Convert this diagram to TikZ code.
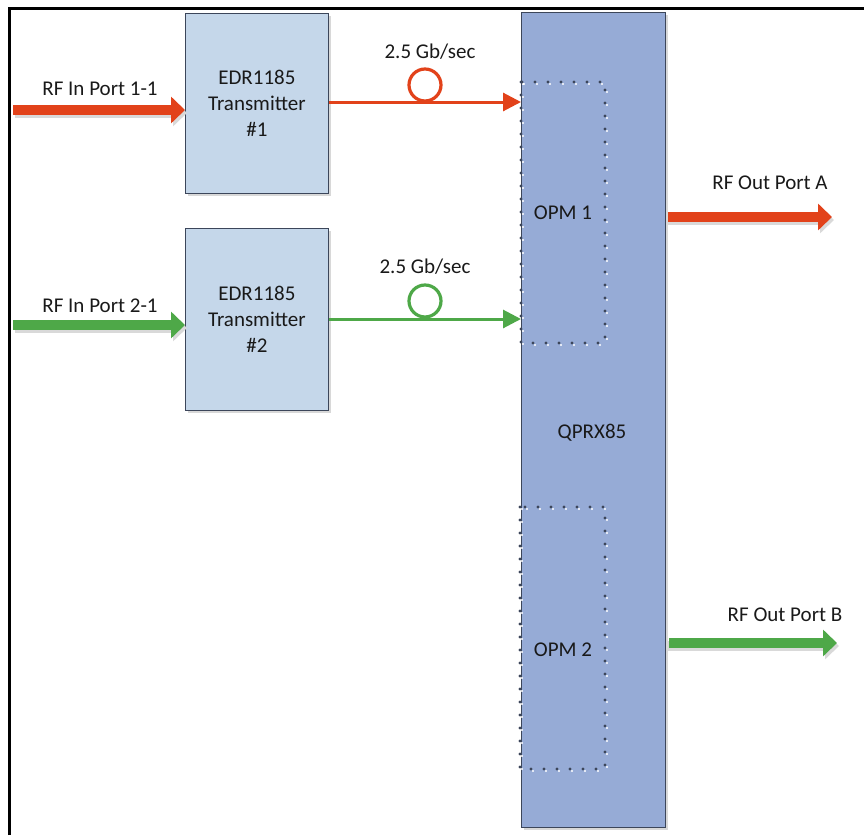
\documentclass[tikz,border=0pt]{standalone}
\usepackage{fontspec}
\setmainfont{Carlito}
\usetikzlibrary{arrows.meta,shadows}
\definecolor{rfred}{RGB}{226,66,26}
\definecolor{rfgreen}{RGB}{78,168,72}
\definecolor{txfill}{RGB}{197,215,234}
\definecolor{qfill}{RGB}{150,171,214}
\definecolor{edgecol}{RGB}{60,70,90}
\begin{document}
\begin{tikzpicture}[x=1pt,y=-1pt,
  font=\fontsize{21}{26}\selectfont,
  box/.style={draw=edgecol, line width=0.8pt, anchor=north west, inner sep=0pt,
    drop shadow={shadow xshift=2.5pt,shadow yshift=-2.5pt,fill=black!30,opacity=0.5}},
  fatarrow/.style={line width=9.5pt, -{Triangle[length=14pt,width=26pt]}},
  fatshadow/.style={line width=9.5pt, -{Triangle[length=14pt,width=26pt]}, black!15},
  thinarrow/.style={line width=3pt, -{Triangle[length=18pt,width=18pt]}},
  ring/.style={circle, draw, line width=3.2pt, fill=white, minimum size=32pt, inner sep=0pt},
  opmdots/.style={draw=edgecol, line width=3.3pt, line cap=round, dash pattern=on 0pt off 13pt},
  opmwhite/.style={draw=white, line width=2.2pt, line cap=round, dash pattern=on 0pt off 13pt},
  lbl/.style={inner sep=1pt, text=black!90}
]
\useasboundingbox (0,0) rectangle (864,835);
% frame (top and left edges)
\draw[line width=2.5pt] (9.5,835) -- (9.5,8.5) -- (864,8.5);

% blocks
\node[box, fill=txfill, minimum width=143pt, minimum height=180pt, align=center, text=black!90] (tx1) at (185,13)
  {EDR1185\\Transmitter\\\#1};
\node[box, fill=txfill, minimum width=143pt, minimum height=182pt, align=center, text=black!90] (tx2) at (185,228)
  {EDR1185\\Transmitter\\\#2};
\node[box, fill=qfill, minimum width=144pt, minimum height=815pt] (qprx) at (521,12) {};
\node[lbl] (qlbl) at (592,433) {QPRX85};

% OPM dotted regions
\draw[opmwhite] (523,84) rectangle (607,345);
\draw[opmdots] (521,82) rectangle (605,343);
\node[lbl] (opm1) at (563,213) {OPM 1};
\draw[opmwhite] (522,509) rectangle (607,771);
\draw[opmdots] (520,507) rectangle (605,769);
\node[lbl] (opm2) at (563,650) {OPM 2};

% inputs
\coordinate (in1) at (13,110);
\coordinate (in2) at (13,325);
\draw[fatshadow] ([shift={(2,3)}]in1) -- ([shift={(2,3)}]in1 -| tx1.west);
\draw[fatshadow] ([shift={(2,3)}]in2) -- ([shift={(2,3)}]in2 -| tx2.west);
\draw[fatarrow, rfred] (in1) -- (in1 -| tx1.west);
\draw[fatarrow, rfgreen] (in2) -- (in2 -| tx2.west);
\node[lbl] (lin1) at (100,89) {RF In Port 1-1};
\node[lbl] (lin2) at (100,306) {RF In Port 2-1};

% optical links
\coordinate (l1) at (329,102);
\coordinate (l2) at (329,319);
\draw[thinarrow, rfred] (l1) -- (l1 -| qprx.west);
\draw[thinarrow, rfgreen] (l2) -- (l2 -| qprx.west);
\node[ring, draw=rfred] (ring1) at (425,85) {};
\node[ring, draw=rfgreen] (ring2) at (425,301) {};
\node[lbl] (rate1) at (430,52) {2.5 Gb/sec};
\node[lbl] (rate2) at (425,267) {2.5 Gb/sec};

% outputs
\coordinate (outA) at (832,217);
\coordinate (outB) at (837,643);
\draw[fatshadow] ([shift={(2,3)}]outA -| qprx.east) -- ([shift={(2,3)}]outA);
\draw[fatshadow] ([shift={(2,3)}]outB -| qprx.east) -- ([shift={(2,3)}]outB);
\draw[fatarrow, rfred] ([xshift=2pt]outA -| qprx.east) -- (outA);
\draw[fatarrow, rfgreen] ([xshift=3pt]outB -| qprx.east) -- (outB);
\node[lbl] (loutA) at (770,183) {RF Out Port A};
\node[lbl] (loutB) at (785,615) {RF Out Port B};
\end{tikzpicture}
\end{document}
